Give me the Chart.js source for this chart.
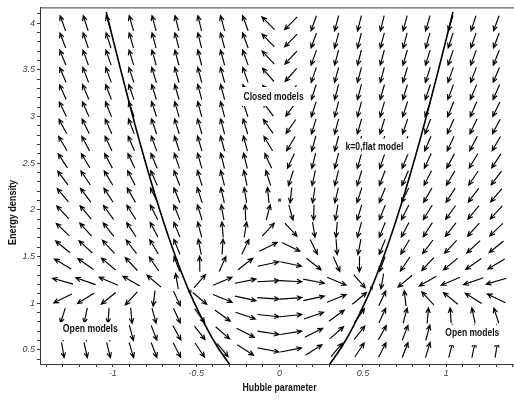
<!DOCTYPE html>
<html><head><meta charset="utf-8">
<script src="https://cdn.jsdelivr.net/npm/chart.js@4.4.1/dist/chart.umd.min.js"></script>
<style>html,body{margin:0;padding:0;background:#fff;overflow:hidden;width:514px;height:401px}canvas{display:block}</style>
</head><body><canvas id="c" width="540" height="401"></canvas>
<script>
// grid of the direction field
const hubble = [-1.3,-1.163,-1.026,-0.889,-0.753,-0.616,-0.479,-0.342,-0.205,-0.068,0.068,0.205,0.342,0.479,0.616,0.753,0.889,1.026,1.163,1.3];
const density = [4.0,3.816,3.632,3.447,3.263,3.079,2.895,2.711,2.526,2.342,2.158,1.974,1.789,1.605,1.421,1.237,1.053,0.868,0.684,0.5];
// arrow directions (degrees, 0 = right, 90 = up), one row per density value
const arrowAngles = [
[110,108,107,106,105,104,104,105,110,135,-135,-110,-105,-104,-104,-105,-106,-107,-108,-110],
[111,109,108,106,105,105,104,105,110,134,-134,-110,-105,-104,-105,-105,-106,-108,-109,-111],
[112,110,109,107,106,105,104,105,110,133,-133,-110,-105,-104,-105,-106,-107,-109,-110,-112],
[113,111,110,108,107,105,105,105,109,131,-131,-109,-105,-105,-105,-107,-108,-110,-111,-113],
[114,113,111,109,107,106,105,105,108,130,-130,-108,-105,-105,-106,-107,-109,-111,-113,-114],
[116,114,112,110,108,106,105,105,108,127,-127,-108,-105,-105,-106,-108,-110,-112,-114,-116],
[118,116,114,111,109,107,106,105,107,125,-125,-107,-105,-106,-107,-109,-111,-114,-116,-118],
[120,118,115,113,110,108,106,105,105,121,-121,-105,-105,-106,-108,-110,-113,-115,-118,-120],
[123,121,118,115,112,109,106,104,104,115,-115,-104,-104,-106,-109,-112,-115,-118,-121,-123],
[127,124,121,117,114,111,107,104,102,108,-108,-102,-104,-107,-111,-114,-117,-121,-124,-127],
[130,127,123,120,116,112,108,103,99,96,-96,-99,-103,-108,-112,-116,-120,-123,-127,-130],
[133,130,126,122,117,112,107,100,92,75,-75,-92,-100,-107,-112,-117,-122,-126,-130,-133],
[136,132,128,123,118,112,105,95,81,47,-47,-81,-95,-105,-112,-118,-123,-128,-132,-136],
[141,137,133,127,121,112,101,86,64,26,-26,-64,-86,-101,-112,-121,-127,-133,-137,-141],
[149,145,140,133,124,111,91,66,38,12,-12,-38,-66,-91,-111,-124,-133,-140,-145,-149],
[164,161,157,150,140,100,49,23,11,3,-3,-11,-23,-49,-100,-140,-150,-157,-161,-164],
[-154,-148,-141,-133,-97,-65,-40,-22,-12,-4,4,12,22,40,65,97,133,141,148,154],
[-108,-102,-94,-85,-75,-65,-54,-36,-19,-6,6,19,36,54,65,75,85,94,102,108],
[-88,-84,-80,-75,-69,-61,-52,-41,-27,-9,9,27,41,52,61,69,75,80,84,88],
[-81,-78,-76,-73,-69,-63,-56,-50,-32,-11,11,32,50,56,63,69,73,76,78,81]
];
// k = 0 (flat model) curve, two branches
const flatLeftH   = [-1.04,-0.95,-0.85,-0.75,-0.65,-0.55,-0.45,-0.375,-0.30];
const flatLeftRho = [4.12,3.48,2.80,2.18,1.63,1.16,0.78,0.54,0.345];
const flatRightH   = [0.30,0.375,0.45,0.55,0.65,0.75,0.85,0.95,1.04];
const flatRightRho = [0.345,0.54,0.78,1.16,1.63,2.18,2.80,3.48,4.12];
// fixed points
const fixedH   = [-0.537,0,0.551];
const fixedRho = [1.128,2.106,1.163];
// ticks
const xTicks = [-1.4,-1.3,-1.2,-1.1,-1,-0.9,-0.8,-0.7,-0.6,-0.5,-0.4,-0.3,-0.2,-0.1,0,0.1,0.2,0.3,0.4,0.5,0.6,0.7,0.8,0.9,1,1.1,1.2,1.3,1.4];
const xLabels = [-1,-0.5,0,0.5,1];
const yTicks = [0.4,0.5,0.6,0.7,0.8,0.9,1,1.1,1.2,1.3,1.4,1.5,1.6,1.7,1.8,1.9,2,2.1,2.2,2.3,2.4,2.5,2.6,2.7,2.8,2.9,3,3.1,3.2,3.3,3.4,3.5,3.6,3.7,3.8,3.9,4,4.1];
const yLabels = [0.5,1,1.5,2,2.5,3,3.5,4];
// text annotations
const noteText = ['Closed models','k=0,flat model','Open models','Open models'];
const noteH    = [-0.036,0.569,-1.135,1.156];
const noteRho  = [3.21,2.67,0.723,0.681];

const arrowPoints = [];
density.forEach((r,j)=>hubble.forEach((h,i)=>arrowPoints.push({x:h,y:r,a:arrowAngles[j][i]})));
const pts = (hs,rs)=>hs.map((h,i)=>({x:h,y:rs[i]}));

const AX = '#3a3a3a';
const TXT = '"Liberation Sans Narrow","Arial Narrow","Liberation Sans",Arial,sans-serif';
const noteStyle = [
  {w:60, box:[-35,-10,37,9]},
  {w:58, box:[-31,-9,34,7]},
  {w:55, box:[-34,-7,33,11]},
  {w:54, box:[-32,-8,34,12]}
];

function fitText(ctx, txt, x, y, w){
  const m = ctx.measureText(txt).width;
  ctx.save(); ctx.translate(x,y); ctx.scale(w/m,1);
  ctx.fillText(txt,0,0); ctx.restore();
}

const arrowPlugin = {
  id:'arrows',
  beforeDatasetsDraw(chart){
    const meta = chart.getDatasetMeta(0);
    const ctx = chart.ctx;
    ctx.save();
    ctx.strokeStyle = '#000'; ctx.lineWidth = 1.15;
    meta.data.forEach((el,k)=>{
      const a = chart.data.datasets[0].data[k].a*Math.PI/180;
      const c = Math.cos(a), s = Math.sin(a);
      const L = 1/Math.sqrt((c/22)*(c/22)+(s/15.5)*(s/15.5));
      const dx = c*L/2, dy = -s*L/2;
      const x0 = el.x-dx, y0 = el.y-dy, x1 = el.x+dx, y1 = el.y+dy;
      const ang = Math.atan2(y1-y0,x1-x0), hl = 5.5, ha = 0.42;
      ctx.beginPath();
      ctx.moveTo(x0,y0); ctx.lineTo(x1,y1);
      ctx.moveTo(x1-hl*Math.cos(ang-ha), y1-hl*Math.sin(ang-ha));
      ctx.lineTo(x1,y1);
      ctx.lineTo(x1-hl*Math.cos(ang+ha), y1-hl*Math.sin(ang+ha));
      ctx.stroke();
    });
    ctx.restore();
  },
  afterDatasetsDraw(chart){
    const ctx = chart.ctx, xs = chart.scales.x, ys = chart.scales.y, ca = chart.chartArea;
    ctx.save();
    ctx.strokeStyle = AX; ctx.lineWidth = 1;
    ctx.beginPath(); ctx.moveTo(ca.left, ca.top+0.5); ctx.lineTo(ca.right, ca.top+0.5); ctx.stroke();
    ctx.font = 'bold 11px '+TXT; ctx.textAlign='center'; ctx.textBaseline='middle';
    noteText.forEach((t,i)=>{
      const x = xs.getPixelForValue(noteH[i]), y = ys.getPixelForValue(noteRho[i]);
      const b = noteStyle[i].box;
      ctx.fillStyle = '#fff';
      ctx.fillRect(x+b[0], y+b[1], b[2]-b[0], b[3]-b[1]);
      ctx.fillStyle = '#111';
      fitText(ctx, t, x, y, noteStyle[i].w);
    });
    ctx.fillStyle = '#111';
    fitText(ctx, 'Hubble parameter', xs.getPixelForValue(0), 388, 74);
    ctx.save(); ctx.translate(13, 212.5); ctx.rotate(-Math.PI/2);
    fitText(ctx, 'Energy density', 0, 0, 65);
    ctx.restore();
    ctx.restore();
  }
};

new Chart(document.getElementById('c'), {
  type:'scatter',
  data:{datasets:[
    {data:arrowPoints, pointRadius:0, pointHoverRadius:0, showLine:false},
    {data:pts(flatLeftH,flatLeftRho), showLine:true, borderColor:'#000', borderWidth:1.6, pointRadius:0, tension:0.3},
    {data:pts(flatRightH,flatRightRho), showLine:true, borderColor:'#000', borderWidth:1.6, pointRadius:0, tension:0.3},
    {data:pts(fixedH,fixedRho), pointStyle:'rect', pointRadius:2.2, backgroundColor:'#555', borderWidth:0}
  ]},
  options:{
    responsive:false, animation:false, events:[],
    layout:{padding:{left:0,top:5,right:22,bottom:0}},
    plugins:{legend:{display:false}, tooltip:{enabled:false}},
    scales:{
      x:{type:'linear', min:-1.437, max:1.43,
        afterBuildTicks:s=>{s.ticks = xTicks.map(v=>({value:v}));},
        afterFit:s=>{s.height = 37;},
        ticks:{autoSkip:false, maxRotation:0, minRotation:0, padding:1, color:'#444',
          font:{family:'"Liberation Sans",Arial,sans-serif', size:9, style:'italic'},
          callback:v=>xLabels.some(l=>Math.abs(l-v)<1e-6)?String(Math.round(v*10)/10):''},
        grid:{drawOnChartArea:false, drawTicks:true, tickLength:3, color:AX},
        border:{color:AX, width:1}},
      y:{type:'linear', min:0.35, max:4.17,
        afterBuildTicks:s=>{s.ticks = yTicks.map(v=>({value:v}));},
        afterFit:s=>{s.width = 40;},
        ticks:{autoSkip:false, padding:2, color:'#444',
          font:{family:'"Liberation Sans",Arial,sans-serif', size:9, style:'italic'},
          callback:v=>yLabels.some(l=>Math.abs(l-v)<1e-6)?String(Math.round(v*10)/10):''},
        grid:{drawOnChartArea:false, drawTicks:true, tickLength:3, color:AX},
        border:{color:AX, width:1}}
    }
  },
  plugins:[arrowPlugin]
});
</script>
</body></html>
